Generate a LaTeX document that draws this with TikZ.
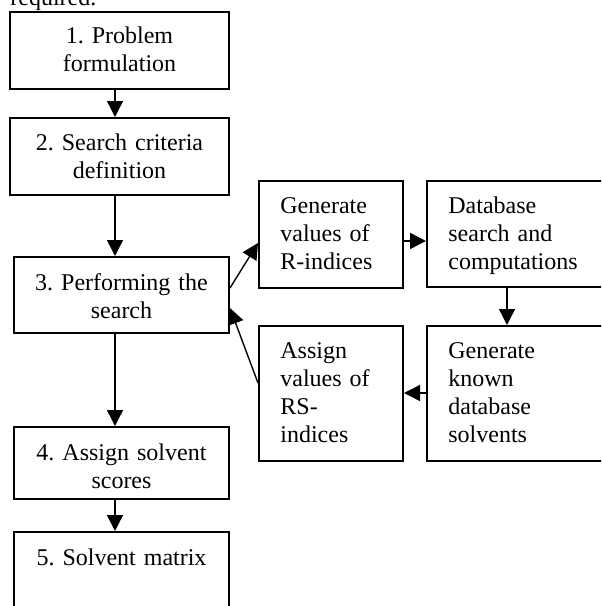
\documentclass[tikz,border=0pt]{standalone}
\usepackage{fontspec}
\setmainfont{Liberation Serif}
\usetikzlibrary{arrows.meta,calc}
\frenchspacing
\begin{document}
\begin{tikzpicture}[x=0.5pt,y=-0.5pt,
  box/.style={draw,line width=1pt,inner sep=0pt,rectangle},
  lbl/.style={font=\fontsize{12pt}{14pt}\selectfont\frenchspacing,inner sep=0pt},
  ctxt/.style={lbl,text width=106pt,align=center,anchor=base},
  ltxt/.style={lbl,text width=70pt,align=left,anchor=base west},
  arr/.style={-{Triangle[width=8pt,length=8pt]},line width=0.7pt}]
\path[use as bounding box,clip] (0,0) rectangle (601,606);
% top cut-off text
\node[lbl,anchor=base west] (req) at (10,5) {required.};
% left column boxes
\node[box,minimum width=109.5pt,minimum height=38.5pt] (b1) at (119.5,50.5) {};
\node[box,minimum width=109.5pt,minimum height=38.5pt] (b2) at (119.5,156.5) {};
\node[box,minimum width=107.5pt,minimum height=38pt] (b3) at (121.5,295) {};
\node[box,minimum width=107.5pt,minimum height=36pt] (b4) at (121.5,463) {};
\node[box,minimum width=107.5pt,minimum height=59pt] (b5) at (121.5,591) {};
% right boxes
\node[box,minimum width=72pt,minimum height=53.5pt] (gr) at (331,234.5) {};
\node[box,minimum width=111.5pt,minimum height=53pt] (db) at (538.5,234) {};
\node[box,minimum width=72pt,minimum height=67.5pt] (as) at (331,393.5) {};
\node[box,minimum width=111.5pt,minimum height=67.5pt] (gk) at (538.5,393.5) {};
% texts
\node[ctxt] (t1) at (119.5,43) {1. Problem\\formulation};
\node[ctxt] (t2) at (119.5,150) {2. Search criteria\\definition};
\node[ctxt] (t3) at (121.5,290) {3. Performing the\\search};
\node[ctxt] (t4) at (121.5,460) {4. Assign solvent\\scores};
\node[ctxt] (t5) at (121.5,565) {5. Solvent matrix};
\node[ltxt] (tgr) at (280,213) {Generate\\values of\\R-indices};
\node[ltxt] (tdb) at (448,213) {Database\\search and\\computations};
\node[ltxt] (tas) at (280,358) {Assign\\values of\\RS-\\indices};
\node[ltxt] (tgk) at (448,358) {Generate\\known\\database\\solvents};
% helper coordinates
\coordinate (ax) at (115,0);
\coordinate (vx) at (507,0);
\coordinate (h1) at (0,241);
\coordinate (h2) at (0,393);
\coordinate (p1) at (0,288);
\coordinate (p2) at (0,243);
\coordinate (p3) at (0,383);
\coordinate (p4) at (0,308);
% connectors
\draw[arr] (b1.south -| ax) -- (b2.north -| ax);
\draw[arr] (b2.south -| ax) -- (b3.north -| ax);
\draw[arr] (b3.south -| ax) -- (b4.north -| ax);
\draw[arr] (b4.south -| ax) -- (b5.north -| ax);
\draw[arr] (gr.east |- h1) -- (db.west |- h1);
\draw[arr] (db.south -| vx) -- (gk.north -| vx);
\draw[arr] (gk.west |- h2) -- (as.east |- h2);
\draw[arr] (b3.east |- p1) -- (gr.west |- p2);
\draw[arr] (as.west |- p3) -- (b3.east |- p4);
\end{tikzpicture}
\end{document}
